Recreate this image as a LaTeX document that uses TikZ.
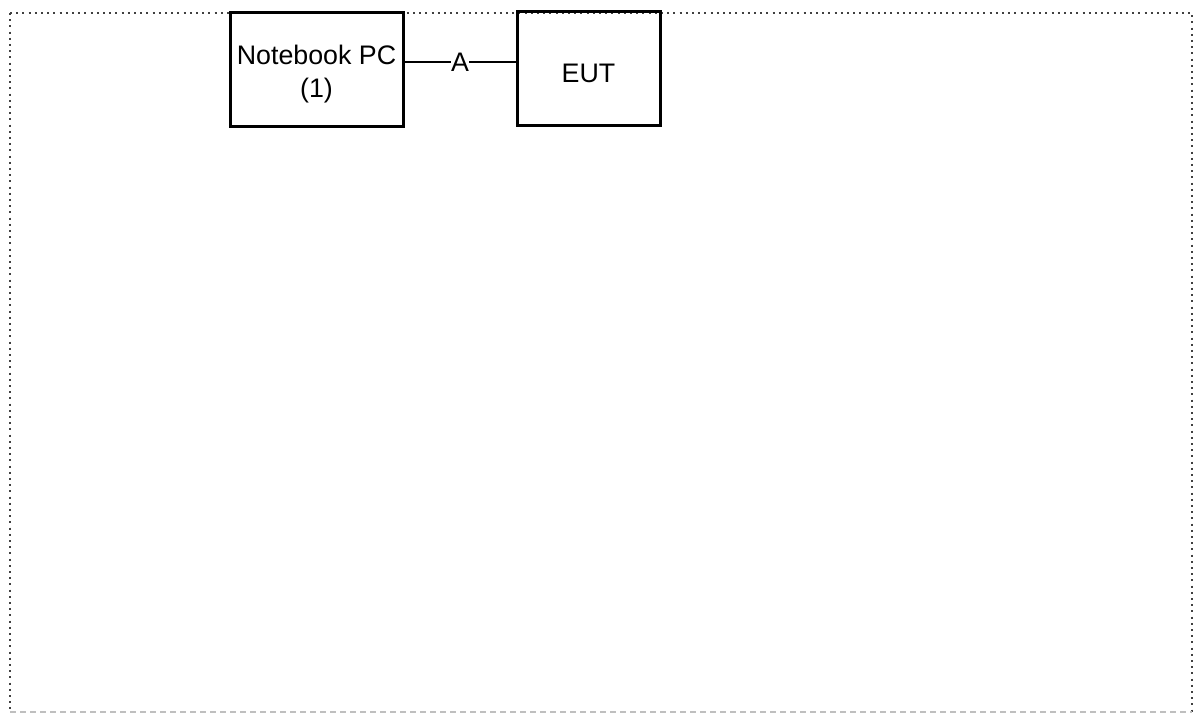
\documentclass[tikz,border=0pt]{standalone}
\usepackage{fontspec}
\setmainfont{Liberation Sans}
\begin{document}
\begin{tikzpicture}[x=1pt,y=-1pt,
  lbl/.style={font=\fontsize{26.8}{33}\selectfont},
  box/.style={draw=black,line width=3pt,minimum width=#1,inner sep=0pt},
  box/.default=150pt,
  boxtext/.style={lbl,align=center,yshift=-4pt},
  wire/.style={line width=2.4pt},
  frame/.style={draw=black!75,line width=2pt,dash pattern=on 2pt off 4.2pt}]
\useasboundingbox (0,0) rectangle (1194,714);
\draw[frame] (10,13) -- (1192,13) -- (1192,712);
\draw[frame] (10,13) -- (10,712);
\draw[draw=black!25,line width=1.5pt,dash pattern=on 6pt off 4pt] (10,712) -- (1192,712);
\node[box=173pt,minimum height=114pt,label={[boxtext]center:Notebook PC\\(1)}] (pc) at (316.5,70) {};
\node[box=143pt,minimum height=114pt,label={[boxtext]center:EUT}] (eut) at (588.5,69) {};
\draw[wire] (pc.east |- 0,62) -- node[fill=white,inner sep=0.5pt,lbl] (a) {A} (eut.west |- 0,62);
\end{tikzpicture}
\end{document}
